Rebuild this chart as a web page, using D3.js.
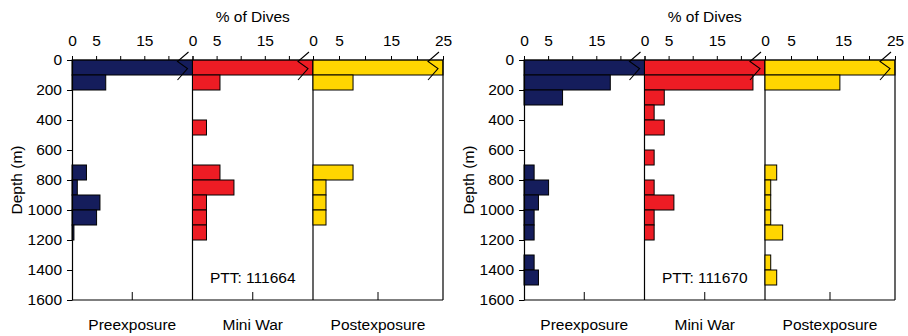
<!DOCTYPE html>
<html>
<head>
<meta charset="utf-8">
<script src="https://cdn.jsdelivr.net/npm/d3@7"></script>
<style>
  body { margin: 0; background: #fff; }
  text { font-family: "Liberation Sans", Arial, sans-serif; fill: #000; }
</style>
</head>
<body>
<div id="chart"></div>
<script>
// depth bins (start of each 100 m bin)
const depthBins = [0, 100, 200, 300, 400, 500, 600, 700, 800, 900, 1000, 1100, 1200, 1300, 1400, 1500]
const depthTicks = [0, 200, 400, 600, 800, 1000, 1200, 1400, 1600]
const phases = ["Preexposure", "Mini War", "Postexposure"]
const phaseColors = ["#151d5c", "#ed1c24", "#ffd600"]
const pctTicks = [0, 5, 10, 15, 20, 25]
const pctLabels = [[0, 5, 15], [0, 5, 15], [0, 5, 15, 25]]
const tags = ["PTT: 111664", "PTT: 111670"]

// % of dives per bin; first bin is off scale (>25) and gets a break mark
const pre664 = [45, 7, 0, 0, 0, 0, 0, 3, 1.1, 5.8, 5.1, 0.4, 0, 0, 0, 0]
const war664 = [45, 5.7, 0, 0, 2.9, 0, 0, 5.7, 8.6, 2.9, 2.9, 2.9, 0, 0, 0, 0]
const post664 = [45, 7.7, 0, 0, 0, 0, 0, 7.7, 2.5, 2.5, 2.5, 0, 0, 0, 0, 0]
const pre670 = [45, 17.9, 8.0, 0, 0, 0, 0, 2.1, 5.1, 3.0, 2.1, 2.1, 0, 2.1, 3.0, 0]
const war670 = [45, 22.5, 4.1, 2.0, 4.1, 0, 2.0, 0, 2.0, 6.1, 2.0, 2.0, 0, 0, 0, 0]
const post670 = [45, 14.4, 0, 0, 0, 0, 0, 2.25, 1.1, 1.1, 1.1, 3.4, 0, 1.1, 2.25, 0]

const charts = [
  { x0: 72, series: [pre664, war664, post664], tag: tags[0] },
  { x0: 524, series: [pre670, war670, post670], tag: tags[1] }
]

const W = 908, H = 336
const TOP = 60, BOTTOM = 300
const PANEL_W = [120.5, 120.5, 130]
const FS = "15.5px"

const svg = d3.select("#chart").append("svg")
  .attr("width", W)
  .attr("height", H)

const y = d3.scaleLinear().domain([0, 1600]).range([TOP, BOTTOM])

charts.forEach(c => {
  const g = svg.append("g")

  // panel x scales
  let start = c.x0
  const xs = PANEL_W.map(w => {
    const s = d3.scaleLinear().domain([0, 25]).range([start, start + w])
    start += w
    return s
  })
  const xEnd = start

  // bars
  c.series.forEach((vals, p) => {
    const x = xs[p]
    const pg = g.append("g")
    const rows = depthBins.map((d, i) => ({ d: d, v: vals[i] })).filter(r => r.v > 0)
    pg.selectAll("rect")
      .data(rows)
      .enter().append("rect")
      .attr("x", x(0))
      .attr("y", r => y(r.d))
      .attr("width", r => x(Math.min(r.v, 25)) - x(0))
      .attr("height", r => y(r.d + 100) - y(r.d))
      .attr("fill", phaseColors[p])
      .attr("stroke", "#000")
      .attr("stroke-width", 1)

    // break marks for off-scale bins
    rows.filter(r => r.v > 25).forEach(r => {
      const xe = x(25)
      const yt = y(r.d)
      const yb = y(r.d + 100)
      pg.append("path")
        .attr("d", d3.line()([
          [xe - 4, yt - 8], [xe - 15, yt + 1.5], [xe - 5, (yt + yb) / 2 + 1], [xe - 15, yb + 5]
        ]))
        .attr("fill", "none")
        .attr("stroke", "#000")
        .attr("stroke-width", 1.1)
    })

    // top axis
    const ax = g.append("g")
      .attr("transform", `translate(0, ${TOP})`)
      .call(d3.axisTop(x).tickValues(pctTicks).tickSize(4).tickSizeOuter(0)
        .tickFormat(d => pctLabels[p].includes(d) ? d : ""))
    ax.select(".domain").remove()
    ax.selectAll("line").attr("stroke", "#000").attr("stroke-width", 1)
    ax.selectAll("text")
      .attr("y", -14)
      .attr("font-size", FS)
      .attr("font-family", null)

    // panel divider / right frame
    g.append("line")
      .attr("x1", x(25)).attr("x2", x(25))
      .attr("y1", TOP).attr("y2", BOTTOM)
      .attr("stroke", "#000").attr("stroke-width", 1.2)

    // bottom tick and phase label
    const mid = (x(0) + x(25)) / 2
    g.append("line")
      .attr("x1", mid).attr("x2", mid)
      .attr("y1", BOTTOM).attr("y2", BOTTOM - 8)
      .attr("stroke", "#000").attr("stroke-width", 1)
    g.append("text")
      .attr("x", mid)
      .attr("y", 330)
      .attr("text-anchor", "middle")
      .attr("font-size", FS)
      .text(phases[p])
  })

  // top line and bottom line
  g.append("line")
    .attr("x1", c.x0).attr("x2", xEnd)
    .attr("y1", TOP).attr("y2", TOP)
    .attr("stroke", "#000").attr("stroke-width", 0.8)
  g.append("line")
    .attr("x1", c.x0).attr("x2", xEnd)
    .attr("y1", BOTTOM).attr("y2", BOTTOM)
    .attr("stroke", "#000").attr("stroke-width", 1.2)

  // depth axis
  const ya = g.append("g")
    .attr("transform", `translate(${c.x0}, 0)`)
    .call(d3.axisLeft(y).tickValues(depthTicks).tickSize(5).tickSizeOuter(0).tickFormat(d3.format("d")))
  ya.select(".domain").attr("stroke", "#000").attr("stroke-width", 1.2)
  ya.selectAll("line").attr("stroke", "#000").attr("stroke-width", 1)
  ya.selectAll("text")
    .attr("x", -10)
    .attr("font-size", FS)
    .attr("font-family", null)

  g.append("text")
    .attr("transform", `translate(${c.x0 - 50}, ${(TOP + BOTTOM) / 2}) rotate(-90)`)
    .attr("text-anchor", "middle")
    .attr("font-size", FS)
    .text("Depth (m)")

  // title above panels
  const mid2 = (xs[1](0) + xs[1](25)) / 2
  g.append("text")
    .attr("x", mid2)
    .attr("y", 22)
    .attr("text-anchor", "middle")
    .attr("font-size", FS)
    .text("% of Dives")

  g.append("text")
    .attr("x", mid2)
    .attr("y", 283)
    .attr("text-anchor", "middle")
    .attr("font-size", FS)
    .text(c.tag)
})
</script>
</body>
</html>
